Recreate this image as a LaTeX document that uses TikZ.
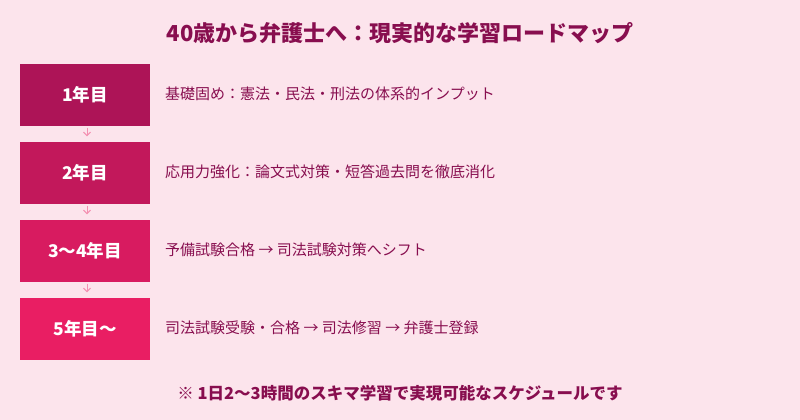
\documentclass[tikz,border=0pt]{standalone}
\usepackage{fontspec}
\setmainfont{Noto Sans CJK JP}
\usetikzlibrary{arrows.meta}
\definecolor{bg}{HTML}{FCE4EC}
\definecolor{c1}{HTML}{AD1457}
\definecolor{c2}{HTML}{C2185B}
\definecolor{c3}{HTML}{D81B60}
\definecolor{c4}{HTML}{E91E63}
\definecolor{ink}{HTML}{880E4F}
\definecolor{arrowc}{HTML}{F48FB1}
\tikzset{
  yearbox/.style={fill=#1, minimum width=130pt, minimum height=62pt, inner sep=0pt,
    text=white, font=\fontsize{17.5}{20}\selectfont\bfseries},
  desc/.style={anchor=west, inner sep=0pt, text=ink, font=\fontsize{15}{18}\selectfont},
  flowarrow/.style={draw=arrowc, line width=1pt, -{Straight Barb[length=3.5pt,width=7pt]},
    shorten <=1.5pt, shorten >=5.5pt},
}
\begin{document}
\begin{tikzpicture}[x=1pt,y=-1pt]
\fill[bg] (0,0) rectangle (800,420);
\useasboundingbox (0,0) rectangle (800,420);
\node[text=ink, font=\fontsize{22}{26}\selectfont\bfseries] (title) at (400,33) {40歳から弁護士へ：現実的な学習ロードマップ};
\node[yearbox=c1] (b1) at (85,95) {1年目};
\node[yearbox=c2] (b2) at (85,173) {2年目};
\node[yearbox=c3] (b3) at (85,251) {3〜4年目};
\node[yearbox=c4] (b4) at (85,329) {5年目〜};
\node[desc] (d1) at (165,94) {基礎固め：憲法・民法・刑法の体系的インプット};
\node[desc] (d2) at (165,172) {応用力強化：論文式対策・短答過去問を徹底消化};
\node[desc] (d3) at (165,250) {予備試験合格 → 司法試験対策へシフト};
\node[desc] (d4) at (165,328) {司法試験受験・合格 → 司法修習 → 弁護士登録};
\draw[flowarrow] ([xshift=2pt]b1.south) -- ([xshift=2pt]b2.north);
\draw[flowarrow] ([xshift=2pt]b2.south) -- ([xshift=2pt]b3.north);
\draw[flowarrow] ([xshift=2pt]b3.south) -- ([xshift=2pt]b4.north);
\node[text=ink, font=\fontsize{16.5}{19}\selectfont\bfseries] (note) at (400,393) {※ 1日2〜3時間のスキマ学習で実現可能なスケジュールです};
\end{tikzpicture}
\end{document}
